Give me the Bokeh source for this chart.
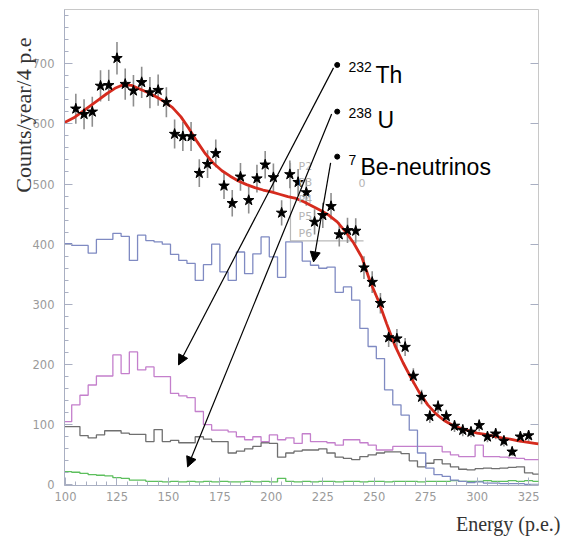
import math
from bokeh.plotting import figure
from bokeh.models import (Range1d, LinearAxis, SingleIntervalTicker, Label,
                          Arrow, NormalHead, Title)
from bokeh.embed import file_html
from bokeh.resources import INLINE

# ---- measured spectrum (4 p.e. bins) ----
star_energy = list(range(105, 326, 4))
star_counts = [625, 616, 620, 663, 664, 709, 666, 655, 669, 652,
               656, 636, 583, 579, 579, 518, 533, 551, 497, 468,
               512, 473, 509, 532, 511, 452, 516, 503, 486, 437,
               448, 463, 416, 423, 422, 361, 337, 302, 245, 243,
               229, 181, 146, 114, 130, 114, 98, 91, 88, 99,
               80, 85, 73, 55, 80, 82]
star_err = [25, 25, 25, 26, 26, 27, 26, 26, 26, 26,
            26, 25, 24, 24, 24, 23, 23, 23, 22, 22,
            23, 22, 23, 23, 23, 21, 23, 22, 22, 21,
            21, 22, 20, 21, 21, 19, 18, 17, 16, 16,
            15, 13, 12, 11, 11, 11, 10, 10, 9, 10,
            9, 9, 9, 7, 9, 9]

# ---- simulated components, same 4 p.e. binning ----
bin_centers = list(range(101, 330, 4))
be7_nu = [401, 398, 398, 385, 408, 408, 418, 413, 373, 415,
          406, 404, 400, 383, 373, 368, 340, 366, 400, 354,
          340, 387, 351, 384, 412, 379, 345, 404, 404, 372,
          365, 360, 362, 320, 329, 307, 260, 230, 210, 158,
          133, 116, 91, 53, 28, 17, 14, 8, 6, 4,
          5, 3, 3, 2, 2, 2, 1, 1]
th232 = [105, 133, 149, 166, 181, 181, 216, 185, 221, 191,
         196, 180, 180, 152, 148, 145, 122, 100, 91, 91,
         88, 80, 75, 80, 72, 83, 75, 78, 69, 85,
         72, 72, 70, 66, 75, 75, 70, 66, 58, 58,
         64, 64, 64, 64, 64, 64, 55, 50, 47, 47,
         66, 47, 47, 46, 45, 44, 42, 42]
u238 = [97, 97, 82, 78, 83, 90, 90, 86, 84, 84,
        72, 92, 72, 74, 70, 70, 80, 76, 72, 72,
        53, 56, 60, 64, 70, 69, 46, 53, 56, 58,
        58, 60, 53, 46, 44, 42, 47, 50, 53, 55,
        55, 52, 40, 30, 36, 42, 35, 30, 26, 25,
        27, 28, 27, 28, 29, 30, 20, 18]
other_bkg = [22, 21, 19, 17, 16, 15, 12, 11, 8, 8,
             6, 6, 5, 6, 5, 6, 5, 6, 5, 6,
             5, 5, 6, 5, 6, 5, 11, 6, 5, 6,
             5, 6, 6, 5, 6, 6, 5, 6, 6, 5,
             6, 6, 6, 5, 6, 6, 6, 7, 6, 6,
             6, 7, 6, 6, 7, 6, 7, 6]

# ---- total fit ----
fit_energy = [99.5, 104, 108, 112, 116, 120, 124, 128, 132, 136, 140, 144,
              148, 152, 156, 160, 164, 168, 172, 176, 180, 184, 188, 192,
              196, 200, 204, 208, 212, 216, 220, 224, 228, 232, 236, 240,
              244, 248, 252, 256, 260, 264, 268, 272, 276, 280, 284, 288,
              292, 296, 300, 304, 308, 312, 316, 320, 324, 328, 329.8]
fit_counts = [602, 610, 620, 630, 640, 650, 659, 665, 664, 658, 652, 645,
              637, 627, 612, 592, 570, 550, 534, 522, 513, 505, 499, 494,
              490, 487, 483, 479, 476, 470, 463, 456, 448, 437, 421, 402,
              378, 338, 306, 268, 232, 203, 177, 153, 133, 118, 107, 99,
              94, 90, 86, 84, 81, 78, 76, 73, 71, 69, 68]

x_ticks_step = 25
y_ticks_step = 100

AXIS_COL = "#a9afc2"
TICK_LABEL_COL = "#9a9a9a"

p = figure(width=563, height=542, output_backend="svg", toolbar_location=None,
           x_range=Range1d(99.5, 329.8), y_range=Range1d(-1, 790),
           x_axis_type=None, y_axis_type=None,
           min_border_left=64, min_border_right=25,
           min_border_top=9, min_border_bottom=57)
p.background_fill_color = "white"
p.border_fill_color = "white"
p.outline_line_color = "#c8c8c8"
p.outline_line_width = 1
p.xgrid.visible = False
p.ygrid.visible = False


def style_axis(ax, labels=True, minor=True):
    ax.axis_line_color = AXIS_COL
    ax.major_tick_line_color = AXIS_COL
    ax.minor_tick_line_color = AXIS_COL if minor else None
    ax.major_tick_in = 8
    ax.major_tick_out = 0
    ax.minor_tick_in = 4
    ax.minor_tick_out = 0
    ax.major_label_text_font = "DejaVu Sans"
    ax.major_label_text_font_size = "11.5px"
    ax.major_label_text_color = TICK_LABEL_COL if labels else None


xaxis = LinearAxis(ticker=SingleIntervalTicker(interval=x_ticks_step, num_minor_ticks=5))
style_axis(xaxis)
xaxis.major_label_standoff = 6
p.add_layout(xaxis, "below")

yaxis = LinearAxis(ticker=SingleIntervalTicker(interval=y_ticks_step, num_minor_ticks=5))
style_axis(yaxis)
yaxis.major_label_standoff = 10
p.add_layout(yaxis, "left")

raxis = LinearAxis(ticker=SingleIntervalTicker(interval=y_ticks_step, num_minor_ticks=5))
style_axis(raxis, labels=False, minor=False)
raxis.axis_line_color = None
raxis.major_label_text_font_size = "1px"
p.add_layout(raxis, "right")

# ---- axis titles ----
p.add_layout(Title(text="Counts/year/4 p.e", align="right", offset=28,
                   standoff=-13, text_font="Liberation Serif",
                   text_font_size="22px", text_font_style="normal",
                   text_color="#333333"), "left")
p.add_layout(Title(text="Energy (p.e.)", align="right", offset=-22,
                   standoff=14, text_font="Liberation Serif",
                   text_font_size="20px", text_font_style="normal",
                   text_color="#333333"), "below")

# ---- histograms ----
edges = [c - 2 for c in bin_centers] + [bin_centers[-1] + 2]
for vals, col in [(other_bkg, "#5dbf5d"), (u238, "#6f6f6f"),
                  (th232, "#c47fcc"), (be7_nu, "#7f8ac2")]:
    p.step(x=edges, y=vals + [vals[-1]], mode="after", line_color=col,
           line_width=1.3)

# ---- stats box remnants ----
p.line([209.3, 209.3, 244.8], [535, 405.4, 405.4], line_color="#b9b9b9",
       line_width=1.2)
for txt, xx, yy in [("P2", 213.2, 528.4), ("P3", 213.2, 501.8),
                    ("P4", 213.2, 473.6), ("P5", 213.2, 445.3),
                    ("P6", 213.2, 417.1), ("0", 242.4, 501.8)]:
    p.add_layout(Label(x=xx, y=yy, text=txt, text_font="DejaVu Sans",
                       text_font_size="11px", text_color="#b4b4b4",
                       text_baseline="middle", text_align="left"))

# ---- data with error bars ----
lo = [c - e for c, e in zip(star_counts, star_err)]
hi = [c + e for c, e in zip(star_counts, star_err)]
p.segment(x0=star_energy, y0=lo, x1=star_energy, y1=hi,
          line_color="#8e8e8e", line_width=1.6)

# ---- total fit ----
p.line(fit_energy, fit_counts, line_color="#d52b1e", line_width=2.8)

p.scatter(star_energy, star_counts, marker="star", size=11,
          fill_color="black", line_color="black")

# ---- component annotations ----
notes = [
    # (dot x, dot y, sup, main, sup x, sup y, main x, main y, arrow start, arrow end)
    (232.0, 697.9, "232", "Th", 237.5, 694.6, 250.6, 681.3, (230.2, 693.0), (154.9, 199.4)),
    (232.0, 620.3, "238", "U", 237.5, 618.0, 251.6, 606.5, (229.3, 616.5), (159.3, 29.9)),
    (232.0, 545.5, "7", "Be-neutrinos", 237.5, 540.0, 243.3, 528.4, (228.8, 535.0), (220.5, 370.6)),
]
for dx, dy, sup, main, sx, sy, mx, my, a0, a1 in notes:
    p.scatter([dx], [dy], size=5, fill_color="black", line_color="black")
    p.add_layout(Label(x=sx, y=sy, text=sup, text_font="Liberation Sans",
                       text_font_size="14px", text_color="black",
                       text_baseline="alphabetic"))
    p.add_layout(Label(x=mx, y=my, text=main, text_font="Liberation Sans",
                       text_font_size="23px", text_color="black",
                       text_baseline="alphabetic"))
    p.add_layout(Arrow(end=NormalHead(size=10, fill_color="black", line_color="black"),
                       x_start=a0[0], y_start=a0[1], x_end=a1[0], y_end=a1[1],
                       line_color="black", line_width=1.2))

open("out.html", "w").write(file_html(p, INLINE))
